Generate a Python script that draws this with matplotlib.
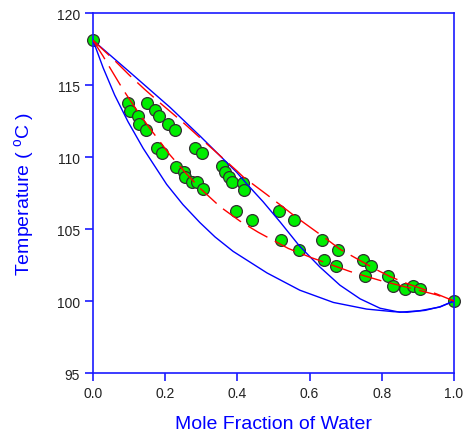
import matplotlib
matplotlib.use("Agg")
import matplotlib.pyplot as plt

plt.rcParams['font.family'] = ['Liberation Sans', 'DejaVu Sans']
plt.rcParams['mathtext.fontset'] = 'custom'
plt.rcParams['mathtext.rm'] = 'Liberation Sans'

# measured points (mole fraction water, temperature)
pts_x = [0.0, 0.096, 0.102, 0.125, 0.128, 0.146, 0.150, 0.173, 0.183, 0.209,
         0.228, 0.176, 0.190, 0.231, 0.251, 0.256, 0.274, 0.287, 0.306, 0.283,
         0.303, 0.357, 0.366, 0.376, 0.385, 0.416, 0.419, 0.396, 0.440, 0.514,
         0.557, 0.520, 0.571, 0.635, 0.641, 0.680, 0.674, 0.749, 0.770, 0.754,
         0.816, 0.830, 0.864, 0.886, 0.906, 1.0]
pts_t = [118.1, 113.73, 113.19, 112.87, 112.31, 111.85, 113.73, 113.26, 112.87, 112.31,
         111.85, 110.65, 110.26, 109.33, 108.98, 108.63, 108.26, 108.24, 107.78, 110.65,
         110.26, 109.35, 108.94, 108.61, 108.24, 108.22, 107.69, 106.25, 105.65, 106.25,
         105.63, 104.24, 103.54, 104.26, 102.85, 103.54, 102.45, 102.85, 102.45, 101.74,
         101.76, 101.06, 100.83, 101.06, 100.83, 100.0]

# model curves (blue)
vap_x = [0.0, 0.1025, 0.2133, 0.2964, 0.398, 0.426, 0.471, 0.518, 0.571, 0.629,
         0.684, 0.740, 0.795, 0.850, 0.906, 0.961, 1.0]
vap_t = [118.1, 115.88, 113.45, 111.46, 108.94, 108.13, 106.9, 105.5, 103.85, 102.35,
         101.1, 100.15, 99.5, 99.22, 99.33, 99.58, 100.0]
liq_x = [0.0, 0.028, 0.060, 0.097, 0.139, 0.204, 0.249, 0.296, 0.338, 0.388,
         0.482, 0.573, 0.666, 0.758, 0.832, 0.870, 0.920, 0.961, 1.0]
liq_t = [118.1, 116.2, 114.3, 112.45, 110.6, 108.1, 106.7, 105.45, 104.45, 103.45,
         101.95, 100.75, 99.9, 99.44, 99.26, 99.22, 99.35, 99.6, 100.0]

# fitted curves (red dashed)
fit_up_x = [0.0, 0.060, 0.100, 0.143, 0.186, 0.226, 0.254, 0.309, 0.332, 0.398,
            0.416, 0.481, 0.564, 0.647, 0.684, 0.730, 0.783, 0.823, 0.866, 0.906,
            0.953, 1.0]
fit_up_t = [118.1, 116.7, 115.7, 114.7, 113.75, 112.9, 112.3, 111.05, 110.54, 109.05,
            108.62, 107.4, 105.8, 104.3, 103.6, 102.95, 102.2, 101.7, 101.25, 100.9,
            100.48, 100.0]
fit_lo_x = [0.0, 0.028, 0.042, 0.078, 0.092, 0.120, 0.134, 0.160, 0.189, 0.213,
            0.260, 0.300, 0.352, 0.407, 0.435, 0.458, 0.518, 0.541, 0.606, 0.629,
            0.684, 0.712, 0.772, 0.795, 0.850, 0.878, 0.953, 1.0]
fit_lo_t = [118.1, 117.0, 116.4, 114.9, 114.35, 113.3, 112.8, 111.9, 110.95, 110.15,
            108.8, 107.75, 106.55, 105.55, 105.12, 104.77, 103.96, 103.65, 103.0, 102.8,
            102.3, 102.05, 101.6, 101.43, 101.08, 100.9, 100.42, 100.0]

fig = plt.figure(figsize=(4.66, 4.35), dpi=100)
ax = fig.add_axes([0.1996, 0.1402, 0.7746, 0.8276])

ax.plot(pts_x, pts_t, 'o', color='#00ee00', mec='#303030', mew=0.9, ms=8.5,
        zorder=2, clip_on=False)
ax.plot(vap_x, vap_t, color='#0000ff', lw=1.0, zorder=3)
ax.plot(liq_x, liq_t, color='#0000ff', lw=1.0, zorder=3)
ax.plot(fit_up_x, fit_up_t, color='#ff0000', lw=1.0, dashes=(16, 6), zorder=3)
ax.plot(fit_lo_x, fit_lo_t, color='#ff0000', lw=1.0, dashes=(16, 6), zorder=3)

ax.set_xlim(0, 1)
ax.set_ylim(95, 120)
ax.set_xticks([0.0, 0.2, 0.4, 0.6, 0.8, 1.0])
ax.set_xticklabels(['0.0', '0.2', '0.4', '0.6', '0.8', '1.0'])
ax.set_yticks([95, 100, 105, 110, 115, 120])

for s in ax.spines.values():
    s.set_color('#1a1aff')
    s.set_linewidth(1.2)
ax.tick_params(direction='out', length=6, width=1.2, color='#1a1aff',
               labelsize=10, labelcolor='#222222')

ax.set_xlabel('Mole Fraction of Water', color='#0000ff', fontsize=14, labelpad=11)
ax.set_ylabel('Temperature ( $^{\\mathrm{o}}$C )', color='#0000ff', fontsize=14, labelpad=14)

fig.savefig('out.png', dpi=100)
